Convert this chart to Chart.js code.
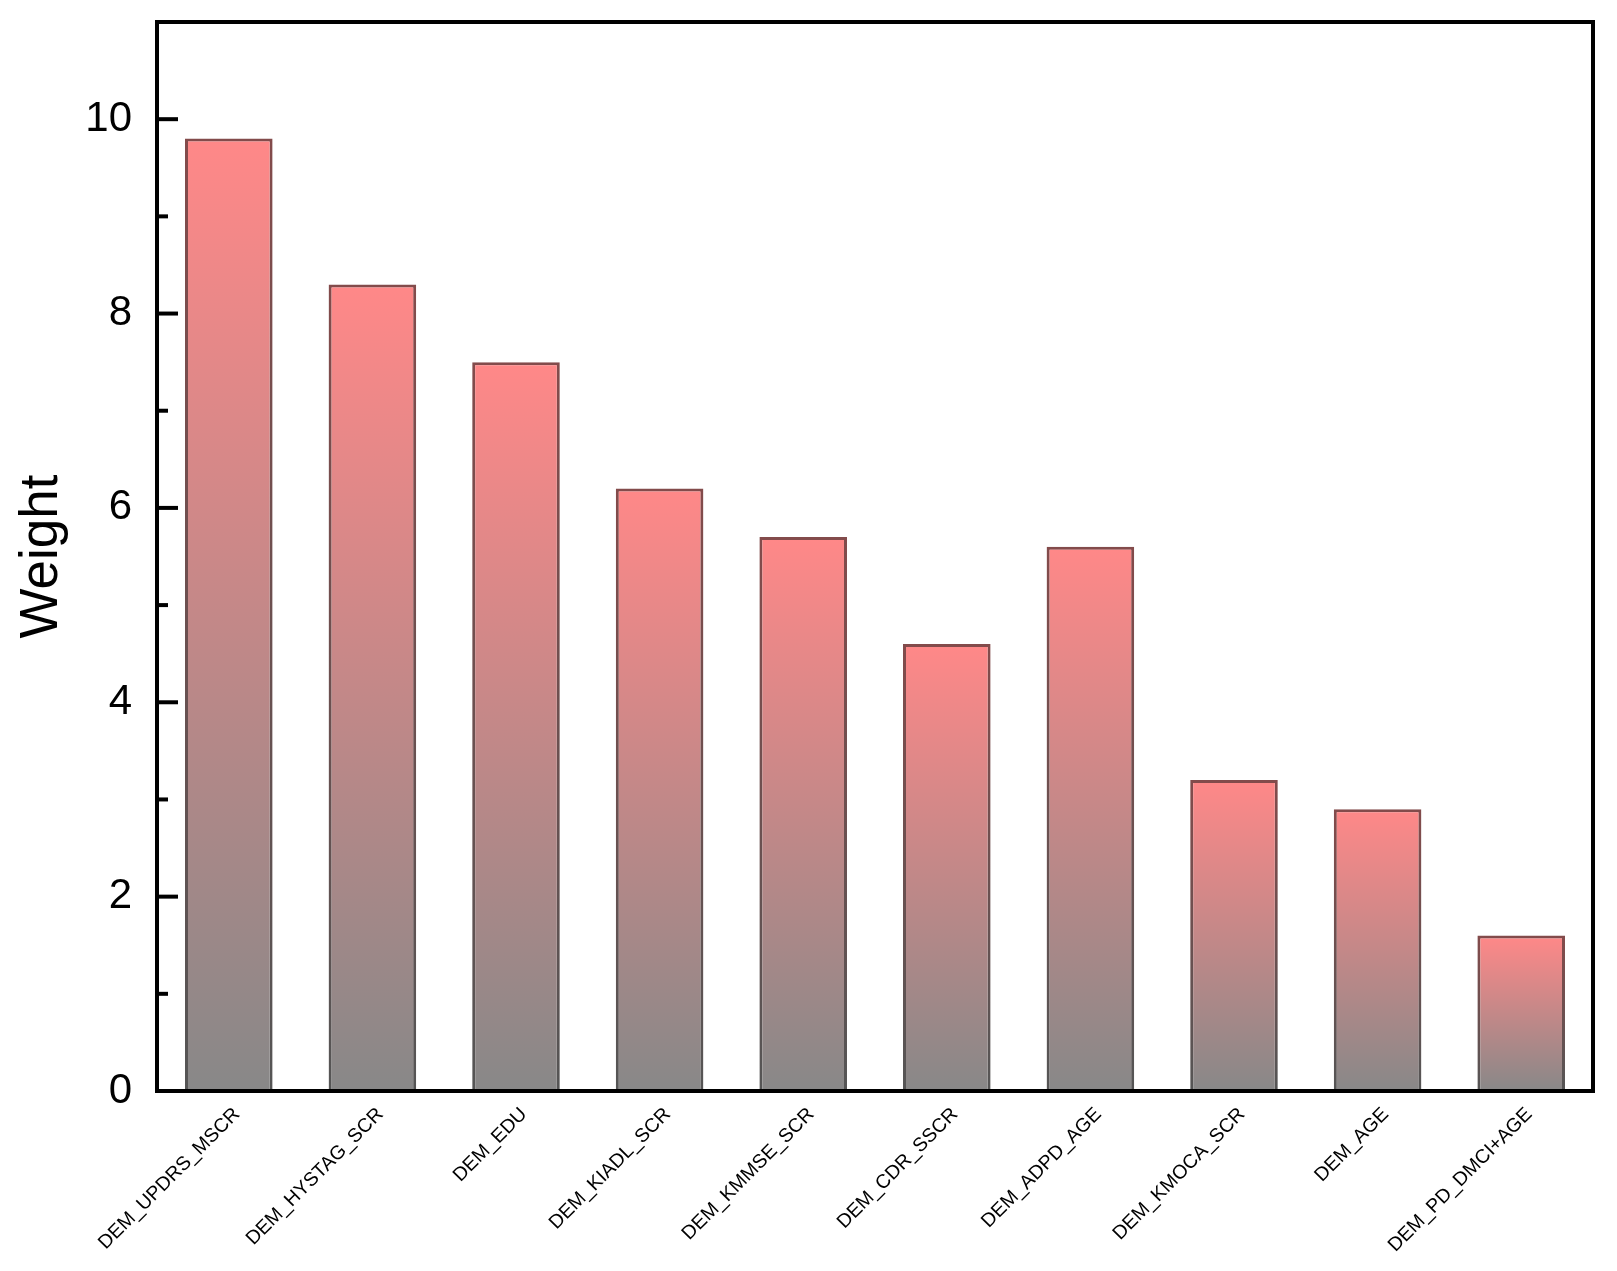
<!DOCTYPE html>
<html>
<head>
<meta charset="utf-8">
<script src="https://cdn.jsdelivr.net/npm/chart.js@4.4.1/dist/chart.umd.min.js"></script>
<style>
html,body{margin:0;padding:0;background:#fff;}
#wrap{width:1617px;height:1271px;position:relative;}
</style>
</head>
<body>
<div id="wrap"><canvas id="c" width="1617" height="1271"></canvas></div>
<script>
const categories = ["DEM_UPDRS_MSCR","DEM_HYSTAG_SCR","DEM_EDU","DEM_KIADL_SCR","DEM_KMMSE_SCR","DEM_CDR_SSCR","DEM_ADPD_AGE","DEM_KMOCA_SCR","DEM_AGE","DEM_PD_DMCI+AGE"];
const weights = [9.8, 8.3, 7.5, 6.2, 5.7, 4.6, 5.6, 3.2, 2.9, 1.6];
const majorTicks = [0, 2, 4, 6, 8, 10];
const minorTicks = [1, 3, 5, 7, 9];

const FONT = "'Liberation Sans', Arial, sans-serif";

const frameAndTicks = {
  id: 'frameAndTicks',
  afterDraw(chart) {
    const {ctx, chartArea: a, scales} = chart;
    ctx.save();
    ctx.strokeStyle = '#000';
    ctx.lineWidth = 4;
    ctx.lineCap = 'butt';
    majorTicks.forEach(v => {
      const y = scales.y.getPixelForValue(v);
      if (v === 0) return;
      ctx.beginPath(); ctx.moveTo(a.left, y); ctx.lineTo(a.left + 21, y); ctx.stroke();
    });
    minorTicks.forEach(v => {
      const y = scales.y.getPixelForValue(v);
      ctx.beginPath(); ctx.moveTo(a.left, y); ctx.lineTo(a.left + 11, y); ctx.stroke();
    });
    ctx.lineJoin = 'miter';
    ctx.strokeRect(a.left, a.top, a.right - a.left, a.bottom - a.top);
    ctx.restore();
  }
};

function barGradient(c, top, bottom) {
  const chart = c.chart;
  const {ctx, chartArea, scales} = chart;
  if (!chartArea || c.type !== 'data' || !scales.y) return top;
  const y0 = scales.y.getPixelForValue(0);
  const y1 = scales.y.getPixelForValue(c.raw);
  const g = ctx.createLinearGradient(0, y1, 0, y0);
  g.addColorStop(0, top);
  g.addColorStop(1, bottom);
  return g;
}

new Chart(document.getElementById('c'), {
  type: 'bar',
  data: {
    labels: categories,
    datasets: [{
      data: weights,
      backgroundColor: (c) => barGradient(c, '#ff8888', '#888888'),
      borderColor: (c) => barGradient(c, '#834b4b', '#555555'),
      borderWidth: 3,
      borderSkipped: 'start',
      barPercentage: 0.61,
      categoryPercentage: 1.0
    }]
  },
  options: {
    responsive: false,
    animation: false,
    devicePixelRatio: 1,
    layout: { padding: { top: 22, right: 24, left: 0, bottom: 0 } },
    plugins: { legend: { display: false }, tooltip: { enabled: false } },
    scales: {
      x: {
        grid: { display: false, drawTicks: false },
        border: { display: false },
        ticks: {
          color: '#000',
          font: { family: FONT, size: 19.5 },
          minRotation: 45,
          maxRotation: 45,
          padding: 12,
          labelOffset: 8,
          autoSkip: false
        },
        afterFit(s) { s.height = 180; s.paddingLeft = 0; s.paddingRight = 0; }
      },
      y: {
        min: 0,
        max: 11,
        grid: { display: false, drawTicks: false },
        border: { display: false },
        afterBuildTicks(s) { s.ticks = majorTicks.map(v => ({ value: v })); },
        ticks: {
          color: '#000',
          font: { family: FONT, size: 42 },
          padding: 25
        },
        title: {
          display: true,
          text: 'Weight',
          color: '#000',
          font: { family: FONT, size: 53 },
          padding: { top: 11, bottom: 0 }
        },
        afterFit(s) { s.width = 157; s.paddingTop = 0; s.paddingBottom = 0; }
      }
    }
  },
  plugins: [frameAndTicks]
});
</script>
</body>
</html>
